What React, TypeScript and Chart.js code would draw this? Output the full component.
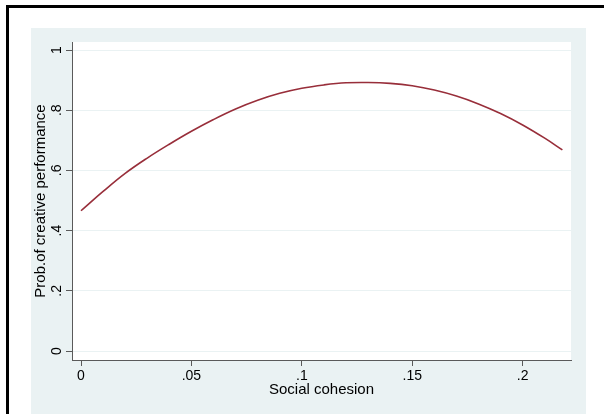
import React, { useEffect, useRef } from "react";
import { Chart, registerables } from "chart.js";

Chart.register(...registerables);

// Social cohesion (x) and predicted probability of creative performance (y)
const cohesion = [0, 0.01, 0.02, 0.03, 0.04, 0.05, 0.06, 0.07, 0.08, 0.09, 0.1, 0.11, 0.12, 0.13, 0.14, 0.15, 0.16, 0.17, 0.18, 0.19, 0.2, 0.21, 0.218];
const probability = [0.466, 0.53, 0.59, 0.641, 0.687, 0.73, 0.769, 0.804, 0.833, 0.856, 0.873, 0.884, 0.891, 0.892, 0.889, 0.881, 0.867, 0.847, 0.821, 0.789, 0.751, 0.707, 0.668];

const xTicks = [0, 0.05, 0.1, 0.15, 0.2];
const xTickLabels = ["0", ".05", ".1", ".15", ".2"];
const yTicks = [0, 0.2, 0.4, 0.6, 0.8, 1];
const yTickLabels = ["0", ".2", ".4", ".6", ".8", "1"];

const xTitle = "Social cohesion";
const yTitle = "Prob.of creative performance";

const FONT = '"Liberation Sans", Arial, sans-serif';
const OUTER_BG = "#EAF2F3";
const AXIS = "#5a5a5a";
const LINE = "rgb(152,46,58)";

export default function App() {
  const ref = useRef<HTMLCanvasElement | null>(null);

  useEffect(() => {
    const canvas = ref.current;
    if (!canvas) return;

    const decor = {
      id: "stataDecor",
      beforeDraw(chart: any) {
        const ctx = chart.ctx;
        const a = chart.chartArea;
        ctx.save();
        ctx.fillStyle = "#ffffff";
        ctx.fillRect(0, 0, chart.width, chart.height);
        // frame (top and left edges)
        ctx.fillStyle = "#000000";
        ctx.fillRect(6, 5, chart.width - 6, 3);
        ctx.fillRect(6, 5, 3, chart.height - 5);
        // graph region
        ctx.fillStyle = OUTER_BG;
        ctx.fillRect(31, 28, 555, chart.height - 28);
        // plot region
        ctx.fillStyle = "#ffffff";
        ctx.fillRect(a.left, a.top, a.right - a.left, a.bottom - a.top);
        ctx.restore();
      },
      afterDraw(chart: any) {
        const ctx = chart.ctx;
        const a = chart.chartArea;
        const xs = chart.scales.x;
        const ys = chart.scales.y;
        ctx.save();
        ctx.fillStyle = "#000000";
        ctx.font = "14px " + FONT;
        ctx.textAlign = "center";
        ctx.textBaseline = "middle";
        xTicks.forEach((v, i) => {
          ctx.fillText(xTickLabels[i], xs.getPixelForValue(v), a.bottom + 16);
        });
        yTicks.forEach((v, i) => {
          ctx.save();
          ctx.translate(a.left - 15, ys.getPixelForValue(v));
          ctx.rotate(-Math.PI / 2);
          ctx.fillText(yTickLabels[i], 0, 0);
          ctx.restore();
        });
        ctx.font = "15px " + FONT;
        ctx.fillText(xTitle, (a.left + a.right) / 2, a.bottom + 30);
        ctx.save();
        ctx.translate(41, (a.top + a.bottom) / 2);
        ctx.rotate(-Math.PI / 2);
        ctx.fillText(yTitle, 0, 0);
        ctx.restore();
        ctx.restore();
      },
    };

    const chart = new Chart(canvas, {
      type: "line",
      data: {
        datasets: [
          {
            data: cohesion.map((c, i) => ({ x: c, y: probability[i] })),
            borderColor: LINE,
            borderWidth: 1.6,
            pointRadius: 0,
            fill: false,
            tension: 0.4,
          },
        ],
      },
      options: {
        responsive: false,
        animation: false,
        devicePixelRatio: 1,
        layout: { padding: { left: 0, right: 33, top: 42, bottom: 0 } },
        plugins: { legend: { display: false }, tooltip: { enabled: false } },
        scales: {
          x: {
            type: "linear",
            min: -0.00408,
            max: 0.2219,
            afterBuildTicks: (axis: any) => {
              axis.ticks = xTicks.map((v) => ({ value: v }));
            },
            afterFit: (axis: any) => {
              axis.height = 54;
            },
            ticks: { display: false },
            grid: {
              drawOnChartArea: false,
              drawTicks: true,
              tickLength: 6,
              tickColor: AXIS,
              tickWidth: 1,
            },
            border: { display: true, color: AXIS, width: 1 },
          },
          y: {
            type: "linear",
            min: -0.0299,
            max: 1.0266,
            afterBuildTicks: (axis: any) => {
              axis.ticks = yTicks.map((v) => ({ value: v }));
            },
            afterFit: (axis: any) => {
              axis.width = 72;
            },
            ticks: { display: false },
            grid: {
              color: OUTER_BG,
              lineWidth: 1,
              drawTicks: true,
              tickLength: 6,
              tickColor: AXIS,
              tickWidth: 1,
            },
            border: { display: true, color: AXIS, width: 1 },
          },
        },
      },
      plugins: [decor],
    } as any);

    return () => chart.destroy();
  }, []);

  return (
    <div style={{ position: "absolute", left: 0, top: 0, width: 604, height: 414 }}>
      <canvas ref={ref} width={604} height={414} style={{ display: "block" }} />
    </div>
  );
}
